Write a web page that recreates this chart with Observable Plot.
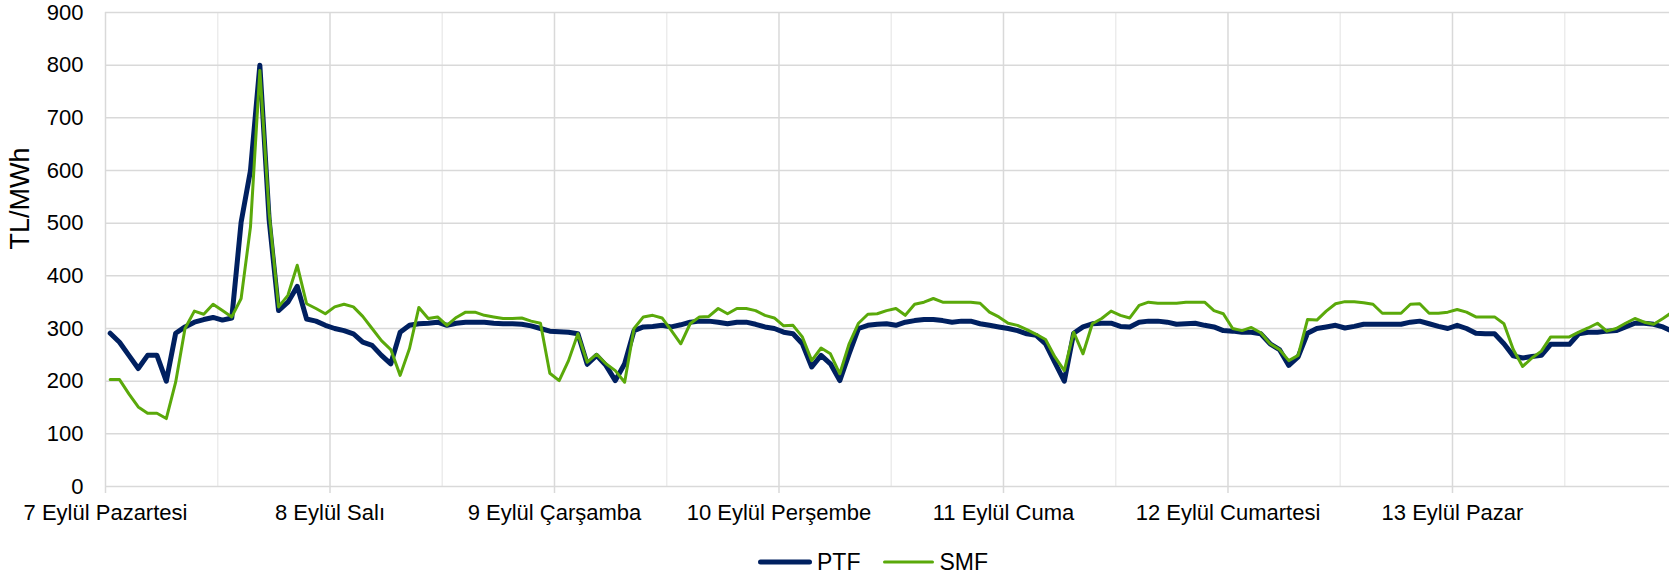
<!DOCTYPE html>
<html><head><meta charset="utf-8">
<script src="https://cdn.jsdelivr.net/npm/d3@7"></script>
<script src="https://cdn.jsdelivr.net/npm/@observablehq/plot@0.6"></script>
<style>
html,body{margin:0;padding:0;background:#fff;overflow:hidden;width:1669px;height:576px;}
#chart svg{overflow:hidden;display:block;}
#legend{position:absolute;left:757px;top:548px;height:28px;display:flex;align-items:center;font-family:"Liberation Sans",Arial,sans-serif;font-size:23px;color:#000;}
#legend .item{display:flex;align-items:center;}
#legend .item + .item{margin-left:22px;}
#legend svg{display:block;margin-right:4px;}
</style></head><body>
<div id="chart"></div>
<div id="legend"></div>
<script>
const days = ["7 Eylül Pazartesi","8 Eylül Salı","9 Eylül Çarşamba","10 Eylül Perşembe","11 Eylül Cuma","12 Eylül Cumartesi","13 Eylül Pazar"];
const yTicks = [0,100,200,300,400,500,600,700,800,900];
const seriesNames = ["PTF","SMF"];
const seriesColors = ["#002060","#5aa90a"];
const seriesWidths = [5,3];

const ptf = [
 291,274,249,224,249,249,200,291,303,312,317,321,316,320,502,600,800,505,334,350,380,318,314,306,
 300,296,290,274,268,249,233,293,306,309,310,312,306,310,312,312,312,310,309,309,308,305,300,295,
 294,293,290,232,249,230,201,233,296,303,304,306,303,307,312,314,314,312,309,312,312,308,303,300,
 293,290,271,227,249,233,201,252,300,306,308,309,306,312,315,317,317,315,312,314,314,309,306,303,
 300,296,290,287,271,235,200,291,303,309,310,310,304,303,312,314,314,312,308,309,310,306,303,296,
 295,293,293,290,271,260,230,246,291,300,303,306,301,304,308,308,308,308,308,312,314,309,304,300,
 306,300,291,290,290,271,248,244,247,249,270,270,270,290,293,293,295,296,303,310,310,308,303,295
];
const smf = [
 203,203,176,151,139,139,129,198,300,333,327,346,334,322,357,493,790,518,341,363,420,347,338,328,
 341,346,341,323,300,277,260,211,262,340,319,322,306,321,331,331,325,322,319,319,320,314,310,215,
 201,239,290,236,251,233,220,198,300,322,325,320,296,271,309,322,323,338,328,338,338,334,325,320,
 305,306,284,239,263,252,214,271,310,327,328,334,338,325,346,350,357,350,350,350,350,348,331,322,
 310,306,298,289,279,246,220,293,252,309,319,333,325,320,344,350,348,348,348,350,350,350,334,328,
 300,296,302,292,271,260,239,249,317,316,333,347,351,351,349,346,329,329,329,346,347,329,329,331,
 336,331,322,322,322,309,260,228,244,257,284,284,284,293,301,310,295,300,310,319,312,308,319,331
];

const font = '"Liberation Sans", Arial, sans-serif';
const nHours = days.length * 24;
const dayTicks = days.map((d, k) => k * 24 - 0.5);
const halfTicks = d3.range(0, nHours, 12).map(h => h - 0.5);
const ptfData = ptf.map((v, i) => ({i, v}));
const smfData = smf.map((v, i) => ({i, v}));

const W = 1669, H = 536, ML = 105, MT = 12, MB = 50;
const hourPx = (W - ML) / 167.2;

const chart = Plot.plot({
  width: W, height: H,
  marginLeft: ML, marginRight: 0, marginTop: MT, marginBottom: MB,
  style: {fontFamily: font, color: "#000", background: "#fff", overflow: "hidden"},
  x: {domain: [-0.5, nHours - 0.5], range: [ML, ML + nHours * hourPx]},
  y: {domain: [0, 900]},
  marks: [
    Plot.gridX(halfTicks.filter((t, k) => k % 2 === 1), {stroke: "#ececec", strokeOpacity: 1, strokeWidth: 1.5}),
    Plot.gridX(dayTicks, {stroke: "#d9d9d9", strokeOpacity: 1, strokeWidth: 1.5}),
    Plot.gridY(yTicks, {stroke: "#d9d9d9", strokeOpacity: 1, strokeWidth: 1.5}),
    Plot.axisY(yTicks, {tickSize: 0, tickPadding: 22, fontSize: 22, label: null, tickFormat: d => String(d)}),
    Plot.axisX(dayTicks, {tickSize: 7, tickPadding: 11, fontSize: 22, label: null, stroke: "#d9d9d9", strokeWidth: 1.5,
      tickFormat: d => days[Math.round((d + 0.5) / 24)]}),
    Plot.text(["TL/MWh"], {frameAnchor: "left", dx: -85, rotate: -90, fontSize: 27, fill: "#000", text: d => d}),
    Plot.line(ptfData, {x: "i", y: "v", stroke: seriesColors[0], strokeWidth: seriesWidths[0], strokeLinejoin: "round", strokeLinecap: "round"}),
    Plot.line(smfData, {x: "i", y: "v", stroke: seriesColors[1], strokeWidth: seriesWidths[1], strokeLinejoin: "round", strokeLinecap: "round"})
  ]
});
document.getElementById("chart").append(chart);

const legend = document.getElementById("legend");
const swW = [56, 53];
seriesNames.forEach((name, k) => {
  const item = document.createElement("div");
  item.className = "item";
  item.innerHTML = `<svg width="${swW[k]}" height="10"><line x1="${seriesWidths[k]/2+1}" x2="${swW[k]-seriesWidths[k]/2-1}" y1="5" y2="5" stroke="${seriesColors[k]}" stroke-width="${seriesWidths[k]}" stroke-linecap="round"/></svg><span>${name}</span>`;
  legend.append(item);
});
</script>
</body></html>
